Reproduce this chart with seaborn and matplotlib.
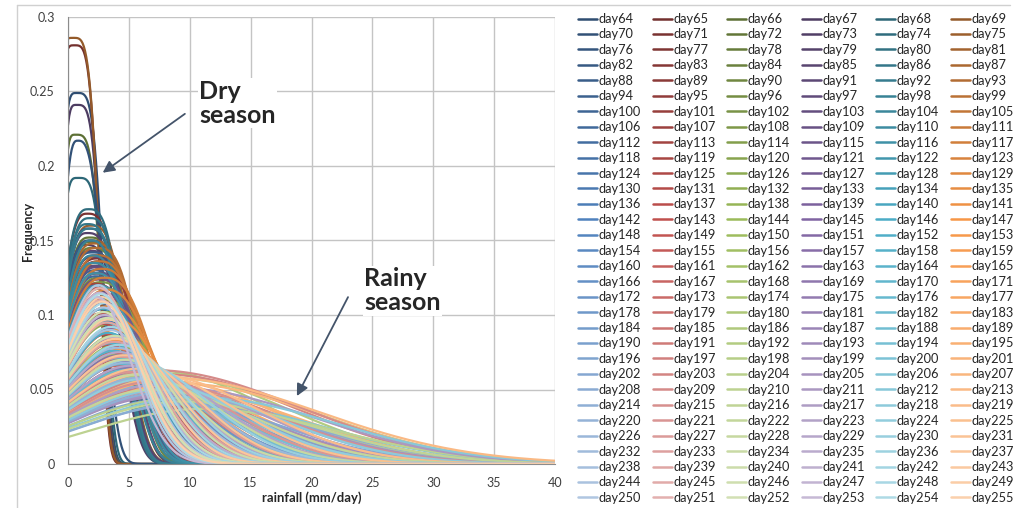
import numpy as np
import pandas as pd
import seaborn as sns
import matplotlib.pyplot as plt
from matplotlib.lines import Line2D
from matplotlib.ticker import FuncFormatter, MultipleLocator
from matplotlib.colors import to_rgb

days = list(range(64, 256))
labels = [f"day{d}" for d in days]

# per-day curve parameters (one line = one legend row)
peak = [
    0.249, 0.281, 0.221, 0.241, 0.192, 0.286,
    0.217, 0.168, 0.152, 0.147, 0.171, 0.160,
    0.158, 0.140, 0.149, 0.155, 0.165, 0.150,
    0.150, 0.138, 0.145, 0.143, 0.161, 0.148,
    0.142, 0.136, 0.133, 0.139, 0.158, 0.145,
    0.135, 0.131, 0.128, 0.133, 0.150, 0.140,
    0.130, 0.128, 0.125, 0.132, 0.140, 0.136,
    0.126, 0.124, 0.122, 0.128, 0.135, 0.131,
    0.120, 0.121, 0.118, 0.124, 0.128, 0.125,
    0.112, 0.118, 0.110, 0.115, 0.120, 0.117,
    0.104, 0.110, 0.102, 0.108, 0.112, 0.106,
    0.096, 0.101, 0.094, 0.099, 0.104, 0.098,
    0.088, 0.094, 0.086, 0.091, 0.095, 0.090,
    0.082, 0.087, 0.080, 0.084, 0.088, 0.083,
    0.076, 0.080, 0.074, 0.078, 0.081, 0.077,
    0.072, 0.075, 0.068, 0.073, 0.076, 0.071,
    0.068, 0.070, 0.064, 0.069, 0.071, 0.066,
    0.064, 0.066, 0.061, 0.065, 0.067, 0.062,
    0.060, 0.062, 0.058, 0.061, 0.063, 0.059,
    0.057, 0.059, 0.060, 0.056, 0.058, 0.055,
    0.054, 0.058, 0.063, 0.052, 0.055, 0.053,
    0.050, 0.055, 0.061, 0.049, 0.052, 0.056,
    0.046, 0.052, 0.058, 0.045, 0.048, 0.050,
    0.043, 0.060, 0.044, 0.047, 0.041, 0.054,
    0.040, 0.063, 0.037, 0.051, 0.045, 0.058,
    0.048, 0.055, 0.042, 0.053, 0.050, 0.061,
    0.058, 0.062, 0.050, 0.066, 0.057, 0.064,
    0.068, 0.072, 0.060, 0.075, 0.070, 0.073,
    0.078, 0.082, 0.070, 0.085, 0.080, 0.084,
    0.090, 0.095, 0.086, 0.100, 0.092, 0.097,
    0.105, 0.110, 0.098, 0.115, 0.108, 0.112,
    0.120, 0.118, 0.102, 0.112, 0.114, 0.109,
]
mode = [
    0.7, 0.5, 0.6, 0.7, 0.8, 0.4,
    0.8, 1.6, 1.8, 1.5, 1.7, 1.9,
    1.7, 2.3, 1.9, 1.6, 1.8, 2.0,
    1.8, 2.5, 2.0, 1.9, 1.6, 2.2,
    2.0, 2.6, 2.2, 2.1, 1.8, 2.4,
    2.1, 2.8, 2.3, 2.2, 1.9, 2.5,
    2.2, 2.4, 2.5, 2.3, 2.0, 2.6,
    2.3, 2.6, 2.7, 2.4, 2.1, 2.8,
    2.4, 2.2, 2.9, 2.6, 2.3, 3.0,
    2.6, 2.3, 3.1, 2.8, 2.5, 3.2,
    2.8, 2.5, 3.3, 3.0, 2.7, 3.4,
    3.0, 2.7, 3.5, 3.2, 2.9, 3.6,
    3.2, 2.9, 3.7, 3.4, 3.1, 3.8,
    3.4, 3.1, 4.0, 3.6, 3.3, 4.1,
    3.6, 3.3, 4.3, 3.9, 3.5, 4.4,
    3.9, 3.6, 4.6, 4.2, 3.8, 4.8,
    4.2, 3.9, 5.0, 4.5, 4.1, 5.2,
    4.5, 4.2, 5.4, 4.9, 4.4, 5.6,
    4.9, 4.6, 5.8, 5.3, 4.8, 6.0,
    5.3, 5.0, 6.2, 5.7, 5.2, 6.4,
    5.8, 6.5, 7.0, 6.2, 5.6, 7.2,
    6.4, 7.0, 7.5, 6.8, 6.0, 7.8,
    7.0, 7.6, 8.0, 7.5, 6.6, 8.5,
    7.8, 8.0, 9.0, 8.2, 10.0, 9.2,
    9.5, 7.0, 11.0, 8.8, 10.5, 8.0,
    8.0, 6.8, 9.5, 7.2, 7.8, 6.5,
    6.0, 5.5, 7.0, 5.2, 6.2, 5.8,
    4.8, 4.5, 5.6, 4.2, 5.0, 4.6,
    4.0, 3.8, 4.6, 3.6, 4.2, 3.9,
    3.4, 3.2, 3.8, 3.0, 3.5, 3.3,
    2.9, 2.7, 3.2, 2.6, 3.0, 2.8,
    2.5, 2.6, 2.9, 2.4, 2.7, 2.8,
]
spread_left = [
    1.3, 1.4, 1.1, 1.2, 1.4, 1.6,
    1.3, 2.1, 2.3, 2.0, 2.2, 2.4,
    2.2, 2.8, 2.4, 2.1, 2.3, 2.5,
    2.3, 3.0, 2.5, 2.4, 2.1, 2.7,
    2.5, 3.1, 2.7, 2.6, 2.3, 2.9,
    2.6, 3.2, 2.8, 2.7, 2.4, 3.0,
    2.7, 2.9, 3.0, 2.8, 2.5, 3.1,
    2.8, 3.1, 3.2, 2.9, 2.6, 3.3,
    2.9, 2.7, 3.4, 3.1, 2.8, 3.5,
    3.1, 2.8, 3.6, 3.3, 3.0, 3.7,
    3.3, 3.0, 3.8, 3.5, 3.2, 3.9,
    3.5, 3.2, 4.0, 3.7, 3.4, 4.1,
    3.7, 3.4, 4.2, 3.9, 3.6, 4.3,
    3.9, 3.6, 4.5, 4.1, 3.8, 4.6,
    4.1, 3.8, 4.8, 4.4, 4.0, 4.9,
    4.4, 4.1, 5.1, 4.7, 4.3, 5.3,
    4.7, 4.4, 5.5, 5.0, 4.6, 5.7,
    5.0, 4.7, 5.9, 5.4, 4.9, 6.1,
    5.4, 5.1, 6.3, 5.8, 5.3, 6.5,
    5.8, 5.5, 6.7, 6.2, 5.7, 6.9,
    6.2, 6.8, 7.2, 6.6, 6.0, 7.4,
    6.6, 7.2, 7.6, 7.0, 6.4, 7.9,
    7.0, 7.6, 8.0, 7.5, 6.8, 8.4,
    7.6, 7.8, 8.6, 8.0, 9.0, 8.8,
    8.6, 7.0, 9.2, 8.4, 9.4, 7.8,
    7.8, 6.9, 8.8, 7.2, 7.6, 6.6,
    6.4, 6.0, 7.2, 5.7, 6.5, 6.2,
    5.4, 5.1, 6.0, 4.8, 5.5, 5.2,
    4.6, 4.4, 5.1, 4.2, 4.7, 4.5,
    3.9, 3.7, 4.3, 3.5, 4.0, 3.8,
    3.4, 3.2, 3.7, 3.1, 3.5, 3.3,
    3.0, 3.1, 3.4, 2.9, 3.2, 3.3,
]
spread_right = [
    2.0, 1.9, 2.0, 1.9, 2.1, 2.0,
    2.0, 2.7, 2.8, 2.7, 2.6, 2.8,
    2.7, 2.8, 2.8, 2.7, 2.6, 3.0,
    2.8, 3.0, 3.0, 2.8, 2.7, 3.1,
    3.0, 3.1, 3.1, 3.0, 2.7, 3.2,
    3.1, 3.2, 3.2, 3.1, 2.8, 3.4,
    3.2, 3.2, 3.4, 3.2, 3.0, 3.5,
    3.4, 3.4, 3.5, 3.4, 3.1, 3.6,
    3.5, 3.5, 3.6, 3.5, 3.2, 3.8,
    3.6, 3.5, 3.8, 3.6, 3.4, 3.9,
    3.8, 3.7, 3.9, 3.8, 3.6, 4.0,
    3.9, 3.8, 4.1, 3.9, 3.7, 4.2,
    4.0, 3.9, 4.3, 4.1, 3.8, 4.4,
    4.2, 4.0, 4.5, 4.3, 4.0, 4.6,
    4.4, 4.2, 4.8, 4.5, 4.2, 4.9,
    4.6, 4.4, 5.0, 4.7, 4.4, 5.1,
    4.9, 4.6, 5.4, 5.0, 4.6, 5.5,
    5.3, 5.0, 5.8, 5.4, 5.0, 6.0,
    5.8, 5.5, 6.4, 6.0, 5.5, 6.6,
    6.4, 6.0, 7.0, 6.6, 6.1, 7.2,
    7.0, 8.0, 9.5, 7.3, 6.8, 8.4,
    7.8, 9.0, 10.5, 8.2, 7.4, 9.5,
    8.6, 10.0, 12.0, 9.0, 8.2, 10.5,
    9.5, 11.0, 10.0, 10.0, 11.0, 11.5,
    10.5, 12.0, 11.0, 11.5, 11.5, 12.5,
    9.5, 10.0, 10.5, 9.0, 9.5, 9.0,
    8.0, 7.5, 8.5, 7.0, 8.0, 7.6,
    6.2, 5.8, 6.8, 5.4, 6.4, 5.9,
    5.0, 4.7, 5.4, 4.4, 5.1, 4.8,
    4.1, 3.9, 4.5, 3.7, 4.2, 4.0,
    3.4, 3.2, 3.7, 3.1, 3.5, 3.3,
    2.9, 3.0, 3.3, 2.8, 3.0, 3.1,
]
# flatness of the curve top, one value per legend row
shape_by_row = [4, 3, 3, 3, 3, 2.6, 2.6, 2.6, 2.6, 2.3, 2.3, 2.3] + [2] * 20

base_colors = ["#4F81BD", "#C0504D", "#9BBB59", "#8064A2", "#4BACC6", "#F79646"]

rain = np.linspace(0, 40, 401)
frames = []
for i, lab in enumerate(labels):
    p = shape_by_row[i // 6]
    s = np.where(rain < mode[i], spread_left[i], spread_right[i])
    freq = peak[i] * np.exp(-0.5 * np.abs((rain - mode[i]) / s) ** p)
    frames.append(pd.DataFrame({"rainfall": rain, "Frequency": freq, "day": lab}))
df = pd.concat(frames, ignore_index=True)

# excel style palette: dark shades in the first rows, light tints in the last
palette = {}
for i, lab in enumerate(labels):
    r, c = divmod(i, 6)
    t = -0.4 + 0.95 * r / 31
    rgb = np.array(to_rgb(base_colors[c]))
    rgb = rgb * (1 + t) if t < 0 else rgb + (1 - rgb) * t
    palette[lab] = tuple(rgb)

sns.set_style("white")
plt.rcParams["font.family"] = ["Lato", "DejaVu Sans"]

fig = plt.figure(figsize=(10.18, 5.08), dpi=100)
ax = fig.add_axes([68 / 1018, 1 - 464 / 508, 487 / 1018, 447 / 508])

sns.lineplot(data=df, x="rainfall", y="Frequency", hue="day", hue_order=labels,
             palette=palette, linewidth=1.6, estimator=None, sort=False,
             legend="full", ax=ax)

handles, labs = ax.get_legend_handles_labels()
ax.get_legend().remove()
order = [r * 6 + c for c in range(6) for r in range(32)]
leg = fig.legend([handles[k] for k in order], [labs[k] for k in order], ncol=6,
                 loc="upper left", bbox_to_anchor=(578 / 1018, 1 - 13 / 508),
                 frameon=False, fontsize=9.2, handlelength=1.5, handletextpad=0.12,
                 columnspacing=0.88, labelspacing=0.27, borderaxespad=0, borderpad=0)
for t in leg.get_texts():
    t.set_color("#262626")
for h in leg.get_lines():
    h.set_linewidth(1.8)

ax.set_xlim(0, 40)
ax.set_ylim(0, 0.3)
ax.xaxis.set_major_locator(MultipleLocator(5))
ax.yaxis.set_major_locator(MultipleLocator(0.05))
ax.yaxis.set_major_formatter(FuncFormatter(lambda v, _: f"{v:g}"))
ax.grid(True, color="#c4c4c4", linewidth=1.0)
ax.set_axisbelow(True)
for side in ["top", "right"]:
    ax.spines[side].set_visible(False)
for side in ["left", "bottom"]:
    ax.spines[side].set_color("#8c8c8c")
ax.tick_params(axis="both", length=3.5, width=0.8, color="#8c8c8c",
               labelsize=9, labelcolor="#404040", pad=6, direction="out")

ax.set_xlabel("rainfall (mm/day)", fontsize=9.4, fontweight="bold")
ax.set_ylabel("Frequency", fontsize=9, fontweight="bold")
ax.xaxis.set_label_coords(0.5, -0.06)
ax.yaxis.set_label_coords(-0.07, 0.52)

arrow_kw = dict(arrowstyle="-|>,head_length=0.7,head_width=0.35", color="#44546A",
                lw=1.3, shrinkA=0, shrinkB=0)
ax.annotate("", xy=(2.85, 0.1955), xytext=(9.6, 0.235), arrowprops=arrow_kw)
ax.annotate("", xy=(18.8, 0.0456), xytext=(23.0, 0.112), arrowprops=arrow_kw)
box = dict(facecolor="white", edgecolor="none", pad=1)
ax.text(10.8, 0.258, "Dry\nseason", fontsize=18, fontweight="bold", ha="left",
        va="top", linespacing=1.05, bbox=box)
ax.text(24.35, 0.132, "Rainy\nseason", fontsize=18, fontweight="bold", ha="left",
        va="top", linespacing=1.05, bbox=box)

# outer chart frame
fig.add_artist(Line2D([17 / 1018, 17 / 1018], [0, 1 - 5 / 508], color="#d0d0d0", lw=1))
fig.add_artist(Line2D([17 / 1018, 1010 / 1018], [1 - 5 / 508, 1 - 5 / 508], color="#d0d0d0", lw=1))

fig.savefig("out.png", dpi=100)
